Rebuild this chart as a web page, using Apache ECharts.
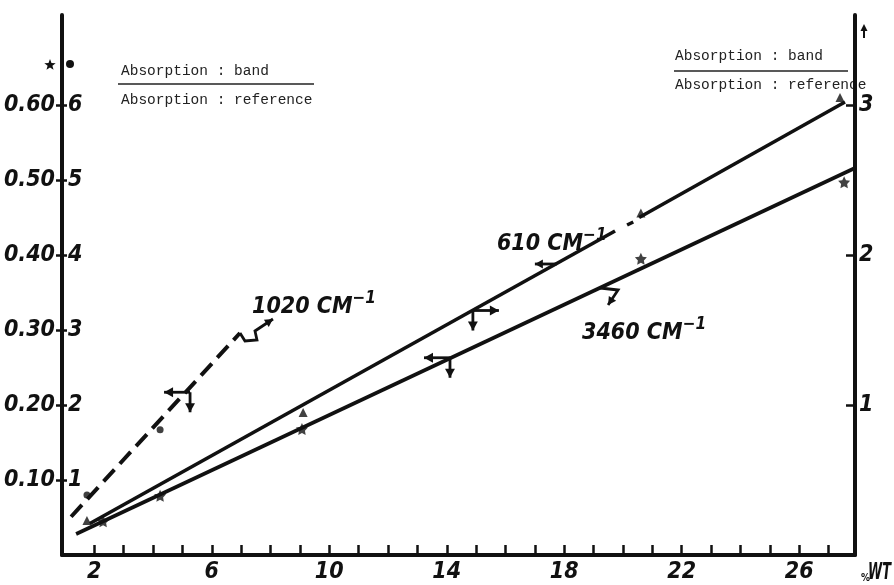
<!DOCTYPE html>
<html>
<head>
<meta charset="utf-8">
<script src="https://cdn.jsdelivr.net/npm/echarts@6/dist/echarts.min.js"></script>
<style>
  html, body { margin: 0; padding: 0; background: #fff; }
  #chart { width: 894px; height: 585px; }
</style>
</head>
<body>
<div id="chart"></div>
<script>
// ---- axis ticks ----
const xTickValues = [2, 3, 4, 5, 6, 7, 8, 9, 10, 11, 12, 13, 14, 15, 16, 17, 18, 19, 20, 21, 22, 23, 24, 25, 26, 27];
const xLabelValues = [2, 6, 10, 14, 18, 22, 26];
const leftTickValues = [0.1, 0.2, 0.3, 0.4, 0.5, 0.6];   // outer left scale (★ 3460)
const innerTickValues = [1, 2, 3, 4, 5, 6];              // inner left scale (● 1020)
const rightTickValues = [1, 2, 3];                       // right scale (▲ 610)

// ---- 1020 cm-1 band, dashed, inner left scale ----
const line1020 = [[1.21, 0.51], [6.96, 2.96]];
const points1020 = [[1.75, 0.80], [4.24, 1.67]];
const key1020 = [[5.26, 2.17]];
const tag1020 = [[6.96, 2.96]];

// ---- 610 cm-1 band, solid, right scale ----
const line610a = [[1.85, 0.21], [19.73, 2.16]];
const line610b = [[20.14, 2.20], [20.35, 2.22]];
const line610c = [[20.55, 2.25], [27.56, 3.02]];
const points610 = [[1.75, 0.23], [9.11, 0.95], [20.61, 2.28], [27.39, 3.05]];
const key610 = [[14.89, 1.63]];
const tag610 = [[17.75, 1.94]];

// ---- 3460 cm-1 band, solid, outer left scale ----
const line3460 = [[1.38, 0.028], [27.9, 0.516]];
const points3460 = [[2.3, 0.045], [4.24, 0.079], [9.07, 0.168], [20.61, 0.395], [27.53, 0.497]];
const key3460 = [[14.11, 0.263]];
const tag3460 = [[19.22, 0.356]];

const ink = '#111';
const numFont = "'Liberation Sans Narrow','DejaVu Sans Condensed',sans-serif";
const monoFont = "'Liberation Mono','DejaVu Sans Mono',monospace";
const starPath = 'path://M0,-10L2.94,-4.05L9.51,-3.09L4.76,1.55L5.88,8.09L0,5L-5.88,8.09L-4.76,1.55L-9.51,-3.09L-2.94,-4.05Z';
const numSize = 23;

const numLabel = {
  color: ink, fontFamily: numFont, fontWeight: 'bold', fontStyle: 'italic', fontSize: numSize
};

// star outline for the scale key, centred on (cx, cy)
function starPoints(cx, cy, r) {
  const pts = [];
  for (let k = 0; k < 10; k++) {
    const a = -Math.PI / 2 + k * Math.PI / 5;
    const rr = k % 2 === 0 ? r : r * 0.42;
    pts.push([cx + rr * Math.cos(a), cy + rr * Math.sin(a)]);
  }
  return pts;
}

// text width helper for placing the superscripts
const measureCtx = document.createElement('canvas').getContext('2d');
function textWidth(str, size) {
  measureCtx.font = 'italic bold ' + size + 'px ' + numFont;
  return measureCtx.measureText(str).width;
}

// ---- small drawing helpers for arrows ----
function head(tip, from, size) {
  const dx = tip[0] - from[0], dy = tip[1] - from[1];
  const len = Math.hypot(dx, dy) || 1;
  const ux = dx / len, uy = dy / len, nx = -uy, ny = ux;
  const bx = tip[0] - ux * size, by = tip[1] - uy * size;
  return {
    type: 'polygon',
    shape: { points: [tip, [bx + nx * size * 0.55, by + ny * size * 0.55], [bx - nx * size * 0.55, by - ny * size * 0.55]] },
    style: { fill: ink }
  };
}
function arrowPath(p, offsets, size) {
  const pts = offsets.map(o => [p[0] + o[0], p[1] + o[1]]);
  return [
    { type: 'polyline', shape: { points: pts }, style: { stroke: ink, lineWidth: 2.8, fill: null } },
    head(pts[pts.length - 1], pts[pts.length - 2], size)
  ];
}

// axis key: arrow toward the scale used and arrow down to the x axis
function keyRenderer(side) {
  return function (params, api) {
    const p = api.coord([api.value(0), api.value(1)]);
    const dir = side === 'left' ? -1 : 1;
    return {
      type: 'group',
      children: [
        ...arrowPath(p, [[0, 0], [dir * 26, 0]], 9),
        ...arrowPath(p, [[0, 0], [0, 20]], 9)
      ]
    };
  };
}

// band label with its pointer
function tagRenderer(text, pointer, textAt) {
  return function (params, api) {
    const p = api.coord([api.value(0), api.value(1)]);
    const x = p[0] + textAt[0], y = p[1] + textAt[1];
    const w = textWidth(text, numSize);
    return {
      type: 'group',
      children: [
        ...arrowPath(p, pointer, 8),
        { type: 'text', style: { x: x, y: y, text: text, fill: ink, font: 'italic bold ' + numSize + 'px ' + numFont, textAlign: 'left', textVerticalAlign: 'bottom' } },
        { type: 'text', style: { x: x + w, y: y - 12, text: '\u22121', fill: ink, font: 'italic bold 17px ' + numFont, textAlign: 'left', textVerticalAlign: 'bottom' } }
      ]
    };
  };
}

function lineSeries(data, yAxisIndex, dashed) {
  return {
    type: 'line', data: data, yAxisIndex: yAxisIndex, symbol: 'none', silent: true,
    lineStyle: { color: ink, width: dashed ? 4 : 3.6, type: dashed ? [16, 8] : 'solid', cap: 'butt' }
  };
}
function pointSeries(data, yAxisIndex, symbol, size) {
  return {
    type: 'scatter', data: data, yAxisIndex: yAxisIndex, symbol: symbol, symbolSize: size,
    itemStyle: { color: ink }, z: 5, silent: true
  };
}

const chart = echarts.init(document.getElementById('chart'), null, { renderer: 'canvas' });

const option = {
  animation: false,
  backgroundColor: '#fff',
  grid: { left: 62, right: 39, top: 15, bottom: 30, containLabel: false, outerBoundsMode: 'none' },
  xAxis: {
    type: 'value', min: 0.9, max: 27.9,
    axisLine: { show: true, lineStyle: { color: ink, width: 4 } },
    axisTick: { show: true, inside: true, length: 10, customValues: xTickValues, lineStyle: { color: ink, width: 2.5 } },
    axisLabel: Object.assign({ customValues: xLabelValues, margin: 6 }, numLabel),
    splitLine: { show: false }
  },
  yAxis: [
    {
      type: 'value', position: 'left', min: 0, max: 0.72,
      axisLine: { show: true, lineStyle: { color: ink, width: 4 } },
      axisTick: { show: true, inside: false, length: 6, customValues: leftTickValues, lineStyle: { color: ink, width: 2.5 } },
      axisLabel: Object.assign({ customValues: leftTickValues, margin: 7, formatter: v => v.toFixed(2) }, numLabel),
      splitLine: { show: false }
    },
    {
      type: 'value', position: 'left', min: 0, max: 7.2,
      axisLine: { show: false },
      axisTick: { show: true, inside: true, length: 5, customValues: innerTickValues, lineStyle: { color: ink, width: 2.5 } },
      axisLabel: Object.assign({ customValues: innerTickValues, inside: true, margin: 6 }, numLabel),
      splitLine: { show: false }
    },
    {
      type: 'value', position: 'right', min: 0, max: 3.6,
      axisLine: { show: true, lineStyle: { color: ink, width: 4 } },
      axisTick: { show: true, inside: true, length: 9, customValues: rightTickValues, lineStyle: { color: ink, width: 2.5 } },
      axisLabel: Object.assign({ customValues: rightTickValues, margin: 4 }, numLabel),
      splitLine: { show: false }
    }
  ],
  series: [
    lineSeries(line1020, 1, true),
    pointSeries(points1020, 1, 'circle', 7),
    lineSeries(line610a, 2, false),
    lineSeries(line610b, 2, false),
    lineSeries(line610c, 2, false),
    pointSeries(points610, 2, 'triangle', 9),
    lineSeries(line3460, 0, false),
    pointSeries(points3460, 0, starPath, 12),
    { type: 'custom', yAxisIndex: 1, data: key1020, renderItem: keyRenderer('left'), silent: true, clip: false },
    { type: 'custom', yAxisIndex: 2, data: key610, renderItem: keyRenderer('right'), silent: true, clip: false },
    { type: 'custom', yAxisIndex: 0, data: key3460, renderItem: keyRenderer('left'), silent: true, clip: false },
    { type: 'custom', yAxisIndex: 1, data: tag1020, silent: true, clip: false,
      renderItem: tagRenderer('1020 CM', [[0, 0], [5, 8], [17, 7], [15, -2], [33, -14]], [12, -14]) },
    { type: 'custom', yAxisIndex: 2, data: tag610, silent: true, clip: false,
      renderItem: tagRenderer('610 CM', [[0, 0], [-22, 0]], [-60, -8]) },
    { type: 'custom', yAxisIndex: 0, data: tag3460, silent: true, clip: false,
      renderItem: tagRenderer('3460 CM', [[0, 0], [18, 2], [8, 17]], [-18, 57]) }
  ],
  graphic: [
    // scale keys beside the left axis
    { type: 'polygon', shape: { points: starPoints(50, 65, 6) }, style: { fill: ink } },
    { type: 'circle', shape: { cx: 70, cy: 64, r: 4 }, style: { fill: ink } },
    // scale key beside the right axis
    { type: 'polyline', shape: { points: [[864, 38], [864, 30]] }, style: { stroke: ink, lineWidth: 2 } },
    { type: 'polygon', shape: { points: [[864, 24], [860.5, 31], [867.5, 31]] }, style: { fill: ink } },
    // ratio captions
    { type: 'text', x: 121, y: 71, style: { text: 'Absorption : band', font: '14.5px ' + monoFont, fill: '#222', textVerticalAlign: 'middle' } },
    { type: 'line', shape: { x1: 118, y1: 84, x2: 314, y2: 84 }, style: { stroke: '#222', lineWidth: 1.5 } },
    { type: 'text', x: 121, y: 100, style: { text: 'Absorption : reference', font: '14.5px ' + monoFont, fill: '#222', textVerticalAlign: 'middle' } },
    { type: 'text', x: 675, y: 56, style: { text: 'Absorption : band', font: '14.5px ' + monoFont, fill: '#222', textVerticalAlign: 'middle' } },
    { type: 'line', shape: { x1: 674, y1: 71, x2: 848, y2: 71 }, style: { stroke: '#222', lineWidth: 1.5 } },
    { type: 'text', x: 675, y: 85, style: { text: 'Absorption : reference', font: '14.5px ' + monoFont, fill: '#222', textVerticalAlign: 'middle' } },
    // x axis unit
    { type: 'text', x: 861, y: 578, style: { text: '%', font: 'bold 10px ' + numFont, fill: ink, textVerticalAlign: 'middle' } },
    { type: 'text', x: 868, y: 573, scaleX: 0.62, style: { x: 0, y: 0, text: 'WT', font: 'italic bold ' + numSize + 'px ' + numFont, fill: ink, textVerticalAlign: 'middle' } }
  ]
};

chart.setOption(option);
</script>
</body>
</html>
